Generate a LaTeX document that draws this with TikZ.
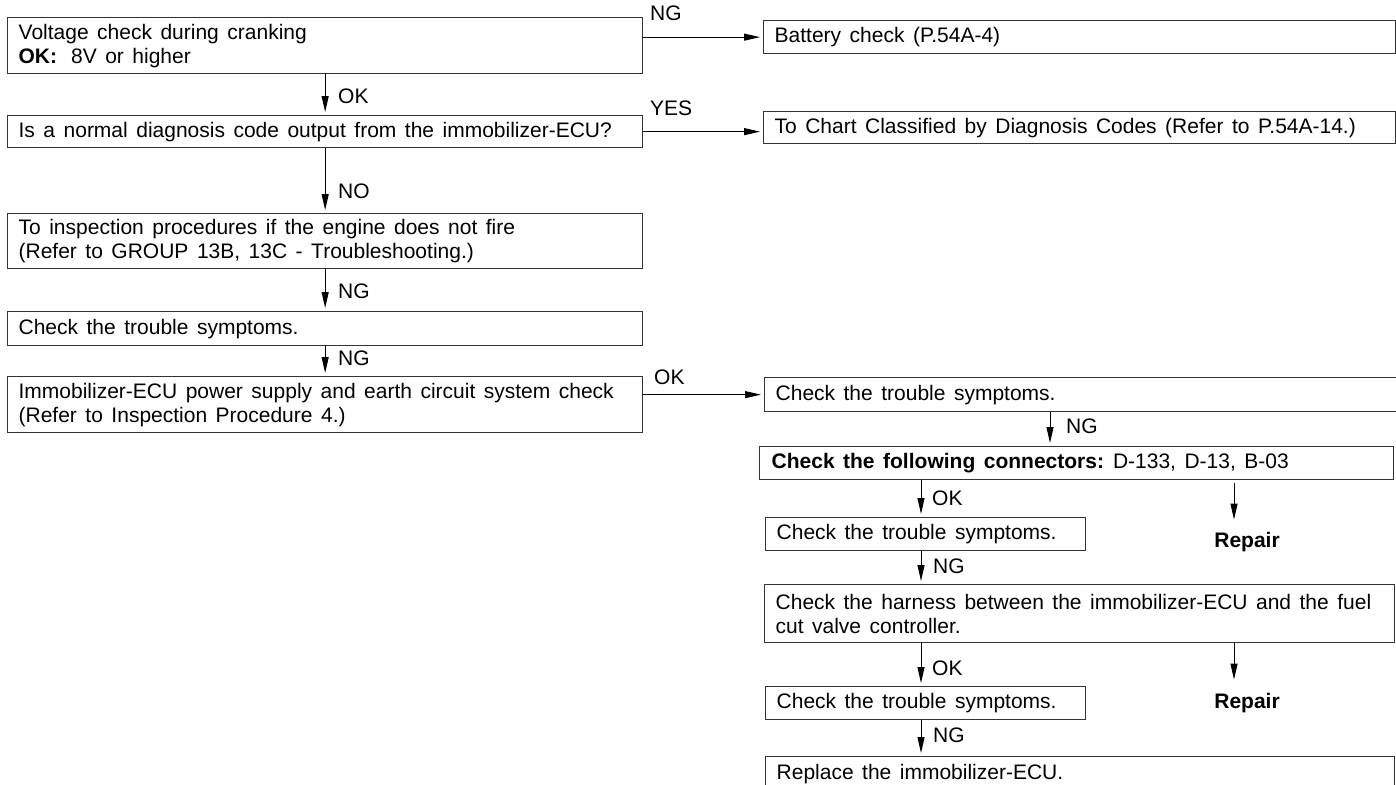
\documentclass[tikz,border=0pt]{standalone}
\usepackage{fontspec}
\setmainfont{Liberation Sans}
\usetikzlibrary{arrows.meta}
\newcommand\dgfont{\fontsize{21}{24}\selectfont}
\newcommand\widesp{\spaceskip=8.5pt plus 1pt minus 1pt\relax\xspaceskip=9pt plus 1pt minus 1pt\relax}
\begin{document}
\begin{tikzpicture}[x=1pt,y=-1pt,
  box/.style={draw=black!80, line width=1.3pt, anchor=north west, inner xsep=11pt, inner ysep=0pt, align=left, font=\dgfont, execute at begin node=\widesp},
  lbl/.style={anchor=base west, inner sep=0pt, font=\dgfont},
  replbl/.style={anchor=base, inner sep=0pt, font=\dgfont\bfseries},
  arr/.style={-{Triangle[length=16pt,width=7pt]}, line width=1pt, shorten >=3pt}
]
\useasboundingbox (0,0) rectangle (1396,784);

% left column
\node[box, text width=613pt, minimum height=56pt] (b1) at (7,17) {Voltage check during cranking\\\textbf{OK:}\hskip 14pt 8V or higher};
\node[box, text width=613pt, minimum height=32pt] (b2) at (7,115) {Is a normal diagnosis code output from the immobilizer-ECU?};
\node[box, text width=613pt, minimum height=55pt] (b3) at (7,213) {To inspection procedures if the engine does not fire\\(Refer to GROUP 13B, 13C - Troubleshooting.)};
\node[box, text width=613pt, minimum height=34pt] (b4) at (7,311) {Check the trouble symptoms.};
\node[box, text width=613pt, minimum height=56pt] (b5) at (7,376) {Immobilizer-ECU power supply and earth circuit system check\\(Refer to Inspection Procedure 4.)};

% right column
\node[box, text width=610pt, minimum height=33pt] (bat) at (763,20) {Battery check (P.54A-4)};
\node[box, text width=610pt, minimum height=32pt] (toc) at (763,111) {To Chart Classified by Diagnosis Codes (Refer to P.54A-14.)};
\node[box, text width=610pt, minimum height=34pt] (b6) at (764,377) {Check the trouble symptoms.};
\node[box, text width=610pt, minimum height=33pt, inner xsep=12pt] (b7) at (759,446) {\textbf{Check the following connectors:} D-133, D-13, B-03};
\node[box, text width=298pt, minimum height=33pt] (b8) at (765,517) {Check the trouble symptoms.};
\node[box, text width=608pt, minimum height=58pt] (b9) at (764,584) {Check the harness between the immobilizer-ECU and the fuel\\cut valve controller.};
\node[box, text width=298pt, minimum height=33pt] (b10) at (765,686) {Check the trouble symptoms.};
\node[box, text width=607pt, minimum height=34pt] (b11) at (765,756) {Replace the immobilizer-ECU.};

\node[replbl] (rep1) at (1247,547) {Repair};
\node[replbl] (rep2) at (1247,708) {Repair};

\coordinate (c1) at (1050,0);
\coordinate (c2) at (921,0);
\coordinate (c3) at (1234,0);

% connectors
\draw[arr] (b1.east |- bat.west) -- (bat.west);
\draw[arr] (b2.east) -- (b2.east -| toc.west);
\draw[arr] (b5.east |- b6.west) -- (b6.west);

\draw[arr] (b1.south) -- (b2.north);
\draw[arr] (b2.south) -- (b3.north);
\draw[arr] (b3.south) -- (b4.north);
\draw[arr] (b4.south) -- (b5.north);

\draw[arr] (b6.south -| c1) -- (b7.north -| c1);
\draw[arr] (b7.south -| c2) -- (b8.north -| c2);
\draw[arr] (b8.south -| c2) -- (b9.north -| c2);
\draw[arr] (b9.south -| c2) -- (b10.north -| c2);
\draw[arr] (b10.south -| c2) -- (b11.north -| c2);
\draw[arr, shorten <=3pt, shorten >=12pt] (b7.south -| c3) -- (rep1.north -| c3);
\draw[arr, shorten >=13pt] (b9.south -| c3) -- (rep2.north -| c3);

% labels
\node[lbl] (lng1) at (650,21) {NG};
\node[lbl] (lyes) at (650,115) {YES};
\node[lbl] (lok3) at (654,384) {OK};
\node[lbl] (lok1) at (338,103) {OK};
\node[lbl] (lno) at (338,198) {NO};
\node[lbl] (lng2) at (338,298) {NG};
\node[lbl] (lng3) at (338,365) {NG};
\node[lbl] (lng4) at (1066,433) {NG};
\node[lbl] (lok4) at (932,505) {OK};
\node[lbl] (lng5) at (933,573) {NG};
\node[lbl] (lok5) at (932,675) {OK};
\node[lbl] (lng6) at (933,742) {NG};
\end{tikzpicture}
\end{document}
